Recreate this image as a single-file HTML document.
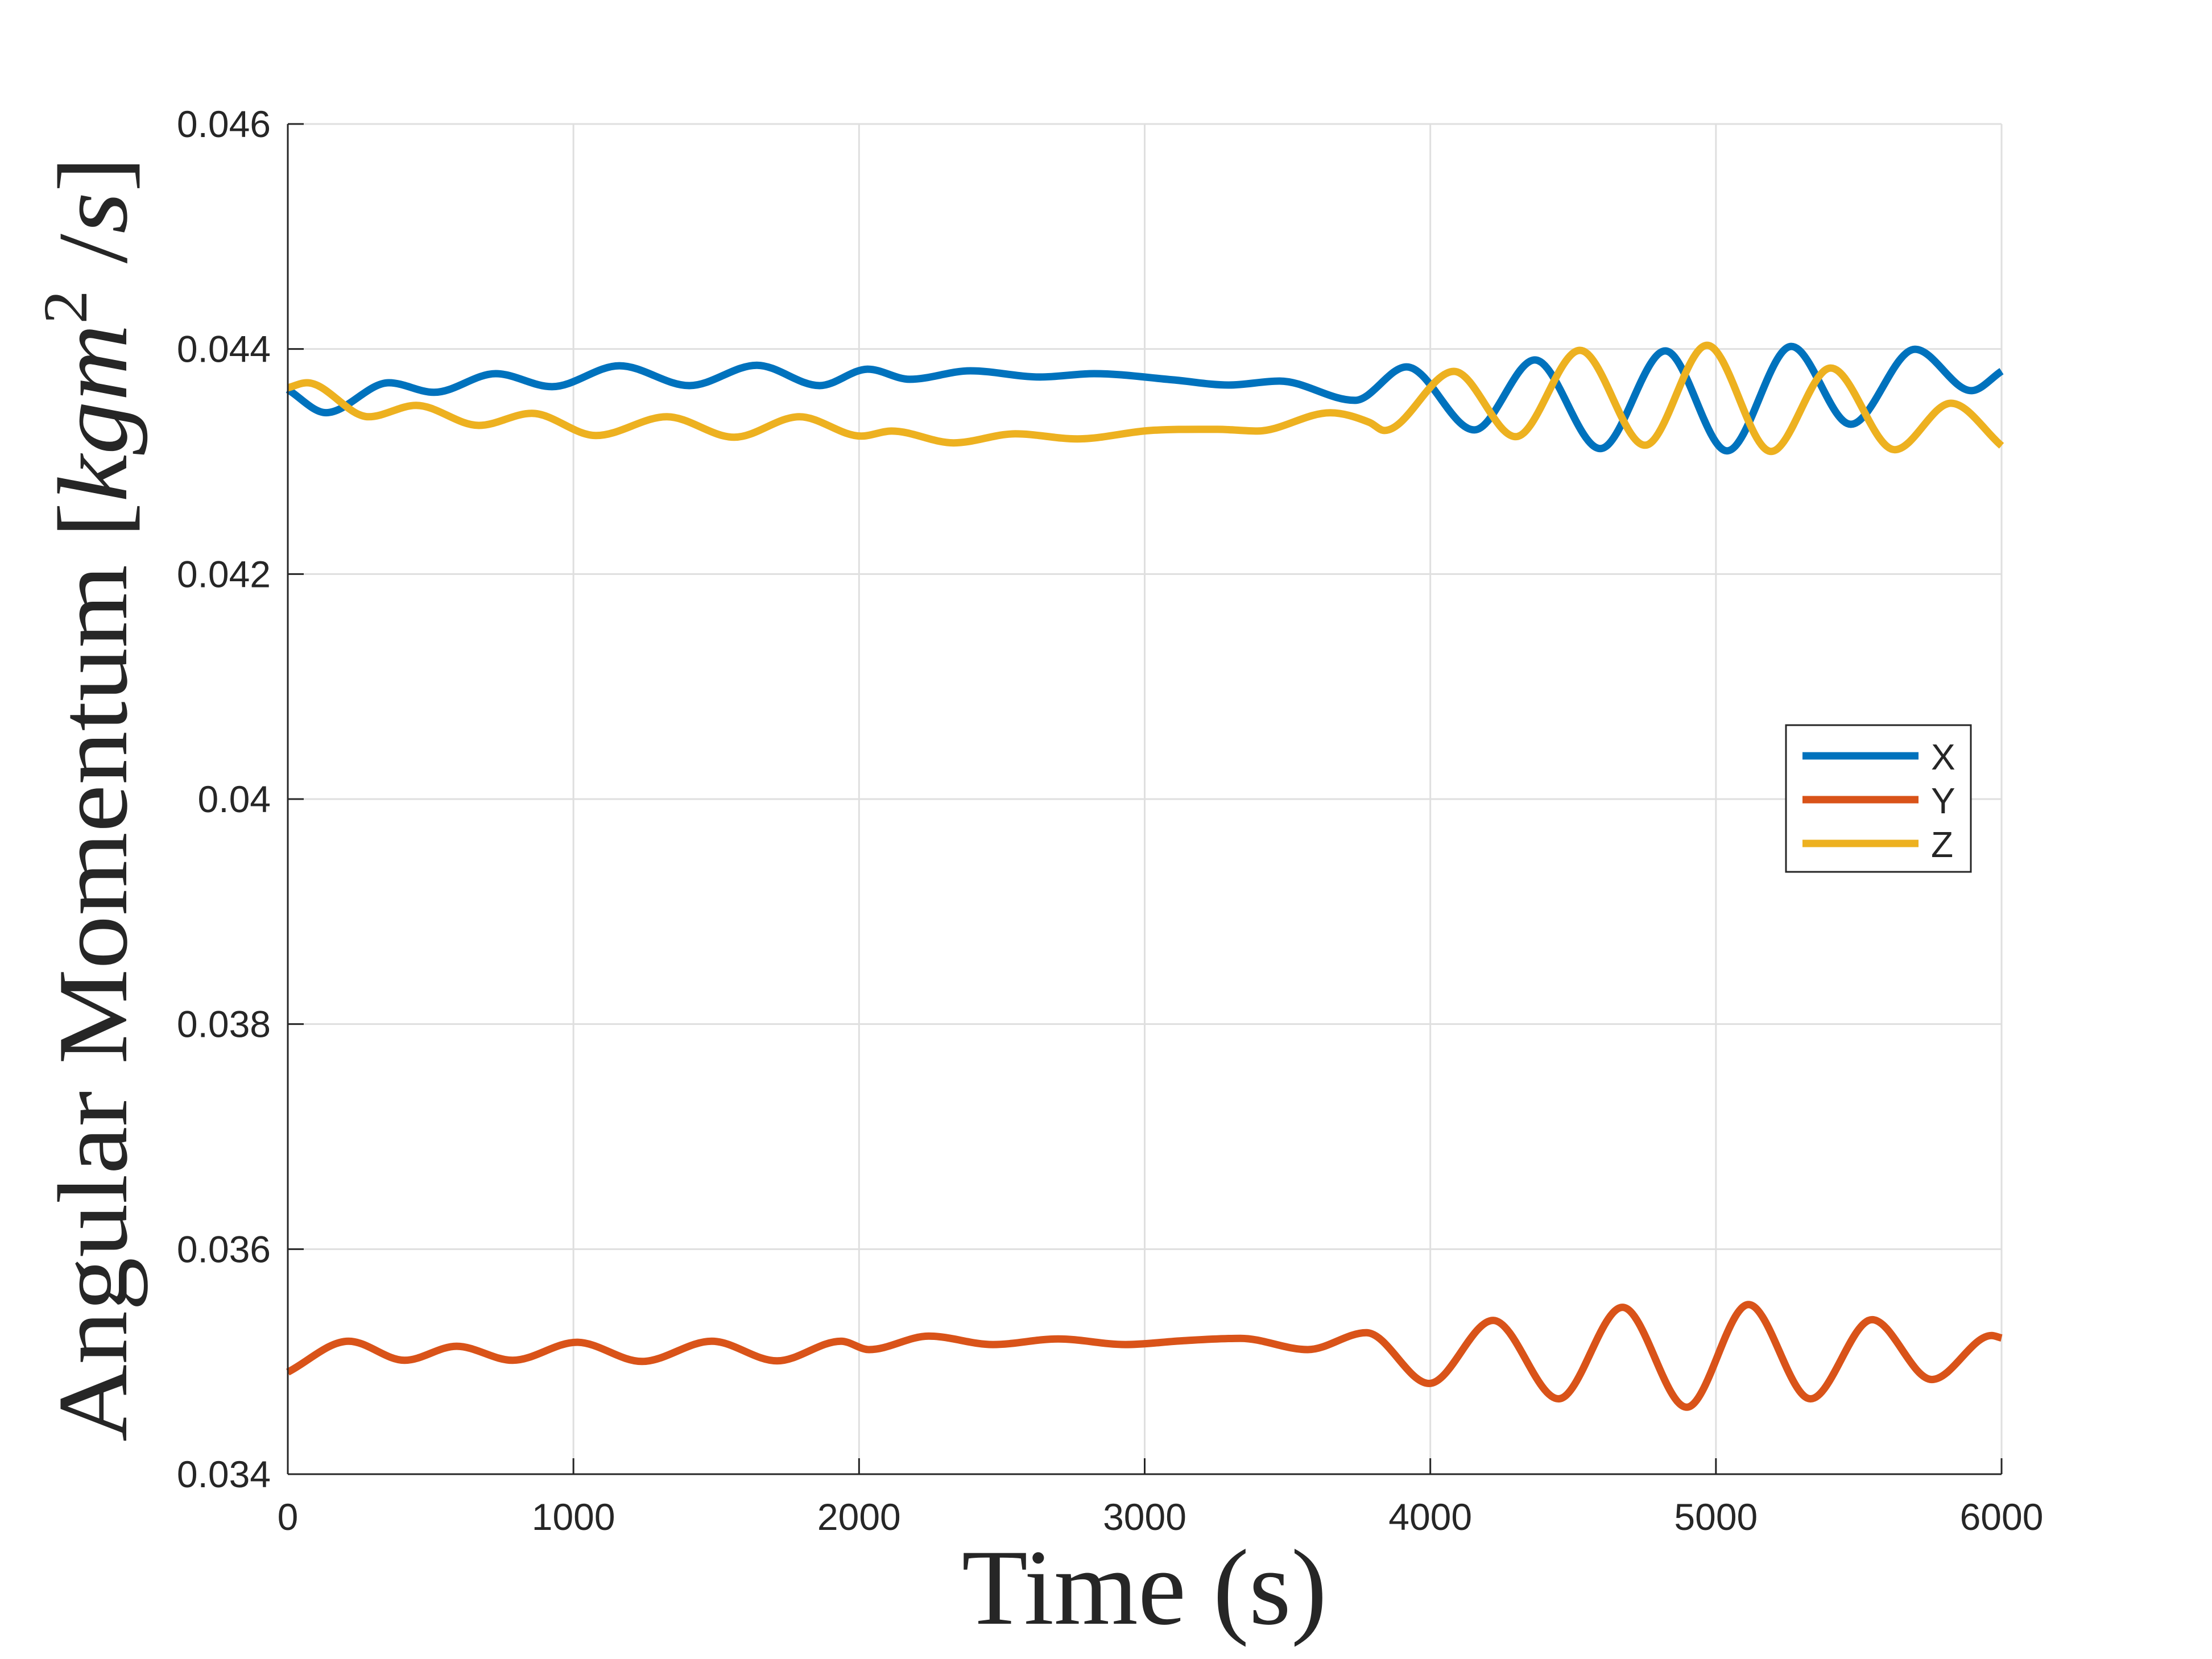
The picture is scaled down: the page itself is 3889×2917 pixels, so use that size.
<!DOCTYPE html>
<html><head><meta charset="utf-8"><style>
html,body{margin:0;padding:0;background:#fff;}
svg{display:block;}
</style></head><body>
<svg id="chart" width="3889" height="2917" viewBox="0 0 3889 2917" xmlns="http://www.w3.org/2000/svg">
<rect x="0" y="0" width="3889" height="2917" fill="#fff"/>
<g id="grid"></g>
<g id="series"></g>
<g id="axes"></g>
<text x="2012" y="2855" text-anchor="middle" font-family="Liberation Serif, serif" font-size="190" fill="#262626">Time (s)</text>
<text transform="translate(222,1405) rotate(-90)" text-anchor="middle" font-family="Liberation Serif, serif" font-size="175" fill="#262626" textLength="2260" lengthAdjust="spacingAndGlyphs">Angular Momentum [<tspan font-style="italic">kgm</tspan><tspan font-size="110" dy="-70">2</tspan><tspan dy="70"> /</tspan><tspan font-style="italic">s</tspan>]</text>
<g id="legend">
<rect x="3140" y="1275" width="325" height="258" fill="#fff" stroke="#262626" stroke-width="3"/>
</g>
</svg>
<script>
const xTicks=[0,1000,2000,3000,4000,5000,6000];
const yTicks=[0.034,0.036,0.038,0.040,0.042,0.044,0.046];
const yTickLabels=["0.034","0.036","0.038","0.04","0.042","0.044","0.046"];
const seriesNames=["X","Y","Z"];
const xT=[0,134,354,512,728,925,1161,1406,1642,1862,2031,2177,2390,2634,2823,3099,3295,3472,3736,3917,4154,4366,4595,4823,5039,5264,5472,5697,5894,6000];
const xV=[0.043640,0.043434,0.043700,0.043615,0.043781,0.043665,0.043851,0.043675,0.043856,0.043675,0.043821,0.043731,0.043806,0.043751,0.043781,0.043726,0.043680,0.043715,0.043544,0.043841,0.043281,0.043903,0.043115,0.043983,0.043095,0.044023,0.043331,0.043998,0.043630,0.043803];
const yT=[0,213,409,591,787,1012,1240,1484,1713,1937,2035,2244,2469,2697,2933,3138,3335,3571,3776,3996,4220,4449,4673,4898,5114,5331,5547,5756,5965,6000];
const yV=[0.034907,0.035182,0.035012,0.035137,0.035012,0.035172,0.035002,0.035182,0.035007,0.035182,0.035107,0.035227,0.035152,0.035202,0.035152,0.035187,0.035207,0.035107,0.035257,0.034806,0.035367,0.034670,0.035483,0.034595,0.035508,0.034670,0.035373,0.034841,0.035232,0.035210];
const zT=[0,67,283,449,669,854,1079,1327,1563,1791,2008,2114,2331,2547,2764,3020,3256,3394,3650,3787,3839,4083,4299,4524,4752,4969,5193,5402,5626,5823,6000];
const zV=[0.043655,0.043700,0.043398,0.043499,0.043321,0.043428,0.043231,0.043398,0.043216,0.043398,0.043226,0.043271,0.043166,0.043246,0.043201,0.043276,0.043286,0.043271,0.043433,0.043348,0.043276,0.043801,0.043221,0.043988,0.043145,0.044033,0.043090,0.043831,0.043105,0.043518,0.043140];

const L=506,R=3519,T=218,B=2592;
const xMin=0,xMax=6000,yMin=0.034,yMax=0.046;
function sx(t){return L+(t-xMin)/(xMax-xMin)*(R-L);}
function sy(v){return B-(v-yMin)/(yMax-yMin)*(B-T);}
const NS="http://www.w3.org/2000/svg";
function mk(tag,attrs,parent){const e=document.createElementNS(NS,tag);for(const k in attrs)e.setAttribute(k,attrs[k]);parent.appendChild(e);return e;}
const grid=document.getElementById('grid'),axes=document.getElementById('axes'),ser=document.getElementById('series'),leg=document.getElementById('legend');

xTicks.forEach((t,i)=>{
  const g=mk('line',{x1:sx(t),x2:sx(t),y1:T,y2:B,stroke:'#dfdfdf','stroke-width':3},grid);
  
  
  const tk=mk('line',{x1:sx(t),x2:sx(t),y1:B,y2:B-28,stroke:'#262626','stroke-width':3},axes);
  
  
  const lb=mk('text',{x:sx(t),y:2690,'text-anchor':'middle','font-family':'Liberation Sans, sans-serif','font-size':66,fill:'#262626'},axes);
  lb.textContent=String(t);
  
  
});
yTicks.forEach((v,i)=>{
  const g=mk('line',{x1:L,x2:R,y1:sy(v),y2:sy(v),stroke:'#dfdfdf','stroke-width':3},grid);
  
  
  const tk=mk('line',{x1:L,x2:L+28,y1:sy(v),y2:sy(v),stroke:'#262626','stroke-width':3},axes);
  
  
  const lb=mk('text',{x:476,y:sy(v)+23,'text-anchor':'end','font-family':'Liberation Sans, sans-serif','font-size':66,fill:'#262626'},axes);
  lb.textContent=yTickLabels[i];
  
  
});
const ax1=mk('line',{x1:L,x2:L,y1:T,y2:B,stroke:'#262626','stroke-width':3},axes);


const ax2=mk('line',{x1:L,x2:R,y1:B,y2:B,stroke:'#262626','stroke-width':3},axes);



function pathFor(ts,vs){
  const p=ts.map((t,i)=>[sx(t),sy(vs[i])]);
  let d='M'+p[0][0].toFixed(1)+','+p[0][1].toFixed(1);
  function tan(a,b,c){const s1=(b[1]-a[1])/Math.max(1,b[0]-a[0]),s2=(c[1]-b[1])/Math.max(1,c[0]-b[0]);if(s1*s2<=0)return 0;return (s1+s2)/2;}
  for(let i=0;i<p.length-1;i++){
    const p0=p[Math.max(0,i-1)],p1=p[i],p2=p[i+1],p3=p[Math.min(p.length-1,i+2)];
    const dx=p2[0]-p1[0];
    const m1=(i===0)?(p2[1]-p1[1])/dx:tan(p0,p1,p2);
    const m2=(i+2>=p.length)?(p2[1]-p1[1])/dx:tan(p1,p2,p3);
    d+=' C'+(p1[0]+dx/3).toFixed(1)+','+(p1[1]+m1*dx/3).toFixed(1)+' '+(p2[0]-dx/3).toFixed(1)+','+(p2[1]-m2*dx/3).toFixed(1)+' '+p2[0].toFixed(1)+','+p2[1].toFixed(1);
  }
  return d;
}
const colors=['#0072BD','#D95319','#EDB120'];
const data=[[xT,xV],[yT,yV],[zT,zV]];
data.forEach((s,i)=>{
  const pth=mk('path',{d:pathFor(s[0],s[1]),fill:'none',stroke:colors[i],'stroke-width':13,'stroke-linejoin':'round','stroke-linecap':'butt'},ser);
  
  
  const yy=1329+i*77;
  const ll=mk('line',{x1:3169,x2:3373,y1:yy,y2:yy,stroke:colors[i],'stroke-width':13},leg);
  
  
  const lt=mk('text',{x:3395,y:yy+24,'font-family':'Liberation Sans, sans-serif','font-size':64,fill:'#262626'},leg);
  lt.textContent=seriesNames[i];
  
  
});
</script>
</body></html>
